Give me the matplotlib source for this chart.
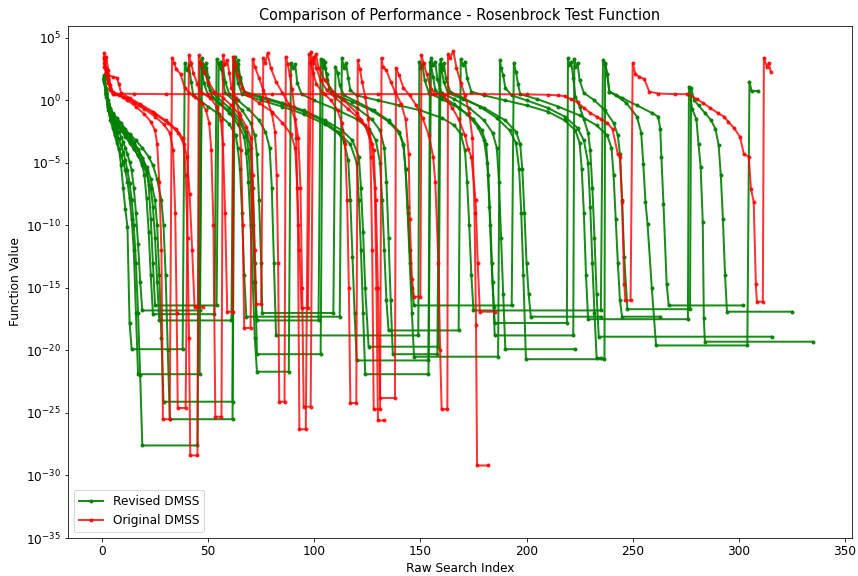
import matplotlib.pyplot as plt

# log10(function value) against raw search index
# Revised DMSS runs
rev_1 = [(1,1.8),(2,0.6),(3,-0.5),(4,-1.2),(5,-1.8),(6,-2.4),(7,-3.0),(8,-3.9),(9,-5.2),(10,-7.0),(11,-8.7),(12,-10.1),(13,-17.8),(14,-19.9),(38,-19.9),
         (39,3.0),(40,2.4),(41,2.8),(42,1.5),(43,0.4),(46,0.0),(50,-0.5),(55,-1.1),(60,-1.9),(63,-2.8),(64,-3.8),(65,-5.5),(66,-9.0),(67,-14.0),(68,-17.3),(112,-17.3),
         (113,3.4),(114,2.6),(115,3.0),(116,1.8),(117,0.8),(120,0.4),(130,0.0),(140,-0.4),(150,-0.8),(160,-1.4),(166,-2.0),(169,-2.7),(171,-4.0),(172,-6.5),(173,-10.0),(174,-14.0),(175,-16.8),(235,-16.8),
         (236,3.2),(237,2.9),(238,2.1),(239,0.7),(242,0.4),(247,-0.2),(252,-1.3),(254,-2.6),(255,-5.1),(256,-8.1),(257,-9.9),(259,-15.0),(261,-19.6),(304,-19.6),
         (305,1.5),(306,0.75),(309,0.75)]
rev_2 = [(1,1.5),(2,0.3),(3,-0.8),(4,-1.6),(5,-2.2),(6,-2.8),(7,-3.4),(8,-3.9),(9,-4.4),(10,-4.9),(11,-5.6),(12,-6.5),(13,-7.8),(14,-9.5),(15,-12.0),(16,-17.0),(17,-21.9),(46,-21.9),
         (47,2.8),(48,2.2),(49,2.6),(50,1.2),(52,0.3),(56,-0.3),(61,-1.0),(65,-1.8),(68,-2.8),(69,-4.0),(70,-6.5),(71,-10.0),(72,-14.5),(73,-17.6),(102,-17.6),
         (103,3.3),(104,2.7),(105,3.1),(106,1.6),(108,0.6),(113,0.1),(120,-0.6),(127,-1.5),(131,-2.4),(133,-3.8),(134,-6.5),(135,-11.0),(136,-16.0),(137,-20.3),(158,-20.3),
         (159,2.9),(160,2.4),(161,1.5),(163,0.6),(170,0.1),(180,-0.6),(190,-1.6),(195,-2.5),(197,-3.5),(198,-5.5),(199,-9.0),(200,-13.0),(201,-15.5),(202,-17.3),(235,-17.3)]
rev_3 = [(1,2.0),(2,1.0),(3,0.0),(4,-0.7),(5,-1.3),(6,-1.9),(7,-2.5),(8,-3.1),(9,-3.6),(10,-4.1),(11,-4.8),(12,-5.6),(13,-6.6),(14,-8.0),(15,-10.0),(16,-13.0),(17,-17.0),(18,-22.0),(19,-27.6),(45,-27.6),
         (46,3.1),(47,2.5),(48,1.4),(50,0.4),(55,-0.2),(60,-1.0),(64,-1.9),(67,-2.9),(68,-4.2),(69,-6.5),(70,-10.0),(71,-14.5),(72,-19.0),(73,-21.7),(88,-21.7),
         (89,3.0),(90,2.6),(91,2.9),(92,1.4),(94,0.5),(100,0.0),(110,-0.7),(120,-1.5),(126,-2.3),(129,-3.2),(131,-5.0),(132,-8.0),(133,-12.0),(134,-16.0),(135,-18.4),(168,-18.4),
         (169,3.3),(170,2.8),(171,3.1),(172,1.8),(174,0.7),(180,0.4),(190,0.0),(200,-0.4),(210,-0.9),(218,-1.6),(223,-2.4),(225,-3.4),(226,-5.5),(227,-9.0),(228,-14.0),(229,-17.5),(276,-17.5),
         (276.5,1.1),(278,-0.7),(280,-1.5),(281,-3.5),(282,-5.3),(283,-9.7),(283.5,-17.4),(284,-19.3),(335,-19.3)]
rev_4 = [(1,1.6),(2,0.5),(3,-0.3),(4,-0.9),(5,-1.3),(6,-1.7),(7,-2.1),(8,-2.5),(9,-2.9),(10,-3.3),(11,-3.8),(12,-4.3),(13,-4.9),(14,-5.6),(15,-7.0),(16,-9.0),(17,-11.5),(18,-14.5),(19,-16.8),(46,-16.8),
         (47,3.4),(48,2.7),(49,3.0),(50,1.9),(51,0.8),(54,0.3),(60,-0.6),(65,-1.5),(68,-2.5),(70,-3.8),(71,-7.0),(72,-13.0),(73,-20.3),(103,-20.3),
         (104,3.2),(105,2.6),(106,2.1),(107,1.0),(110,0.4),(118,-0.1),(127,-0.8),(135,-1.7),(140,-2.6),(142,-3.6),(143,-5.5),(144,-8.5),(145,-12.0),(146,-15.0),(147,-16.4),(193,-16.4),
         (194,3.0),(195,2.3),(196,1.3),(197,0.5),(205,0.1),(215,-0.5),(225,-1.2),(233,-2.0),(238,-2.8),(240,-3.8),(241,-6.0),(242,-9.5),(243,-13.0),(244,-16.0),(245,-17.3),(263,-17.3)]
rev_5 = [(1,1.9),(2,0.7),(3,-0.3),(4,-0.8),(5,-1.2),(7,-1.7),(9,-2.2),(11,-2.7),(13,-3.2),(15,-3.8),(17,-4.4),(19,-5.2),(20,-6.0),(21,-7.8),(22,-10.5),(23,-14.0),(24,-17.1),(53,-17.1),
         (54,3.3),(55,2.9),(56,3.1),(57,1.7),(58,0.6),(62,0.0),(66,-0.8),(70,-1.8),(72,-2.8),(73,-4.3),(74,-8.0),(75,-13.0),(75.5,-17.0),(109,-17.0),
         (110,2.7),(111,2.2),(112,1.2),(114,0.4),(120,-0.1),(128,-0.8),(135,-1.6),(140,-2.5),(142,-3.5),(143,-5.5),(144,-9.0),(145,-13.0),(146,-17.0),(147,-20.5),(186.6,-20.5),
         (187.5,3.2),(188,2.6),(189,2.0),(190,1.0),(193,0.4),(200,0.0),(210,-0.6),(218,-1.3),(224,-2.2),(227,-3.2),(229,-5.0),(230,-8.5),(231,-13.0),(232,-17.0),(233,-20.6),(235,-20.6)]
rev_6 = [(1,1.7),(2,0.6),(3,-0.2),(4,-0.6),(5,-1.0),(7,-1.4),(9,-1.8),(11,-2.3),(13,-2.8),(15,-3.3),(17,-3.9),(19,-4.6),(21,-5.6),(22,-6.8),(23,-9.5),(24,-13.0),(25,-16.4),(54,-16.4),
         (55,3.0),(56,2.5),(57,2.8),(58,1.5),(60,0.5),(64,0.0),(69,-0.7),(74,-1.6),(77,-2.5),(79,-3.8),(80,-7.0),(81,-13.0),(82,-18.8),(149,-18.8),
         (149.5,3.1),(150,2.6),(151,2.9),(152,1.6),(154,0.6),(160,0.1),(168,-0.6),(175,-1.5),(179,-2.4),(181,-3.5),(182,-6.0),(183,-10.0),(184,-14.5),(185,-17.8),(219,-17.8),
         (219.5,3.4),(220,2.8),(221,3.1),(222,1.8),(223,0.3),(225,-0.5),(227,-1.5),(229,-2.6),(230,-4.0),(231,-7.0),(232,-11.0),(233,-15.5),(234,-18.9),(315.5,-18.9)]
rev_7 = [(1,1.6),(2,0.4),(3,-0.5),(4,-1.0),(5,-1.4),(7,-1.9),(9,-2.4),(11,-2.9),(13,-3.4),(15,-3.9),(17,-4.4),(19,-5.0),(21,-5.8),(23,-7.0),(24,-8.5),(25,-11.0),(26,-14.5),(27,-17.6),(61,-17.6),
         (62,3.2),(63,2.6),(64,2.9),(65,1.7),(67,0.6),(75,0.2),(85,-0.3),(95,-0.9),(105,-1.7),(111,-2.5),(114,-3.3),(116,-4.8),(117,-8.0),(118,-12.5),(119,-17.0),(120,-20.8),(153.8,-20.8),
         (154.5,3.1),(155,2.8),(156,1.9),(157,0.8),(160,0.3),(166,-0.3),(172,-1.1),(177,-2.1),(180,-3.2),(181.5,-5.0),(182.5,-8.5),(183.5,-13.0),(184.5,-16.5),(185,-18.8),(222,-18.8),
         (222.5,3.3),(223,2.7),(224,3.0),(225,1.6),(227,0.6),(232,0.0),(237,-0.8),(241,-1.8),(243,-2.8),(244,-4.3),(245,-8.0),(246,-12.5),(247.5,-16.7),(277,-16.7),
         (277.5,1.0),(279,0.0),(281,-0.4),(284,-1.0),(287,-1.6),(289,-2.3),(290.5,-3.6),(291.5,-6.0),(292.5,-9.5),(293.5,-14.0),(294.4,-16.9),(325,-16.9)]
rev_8 = [(1,1.8),(2,0.8),(3,-0.2),(4,-0.8),(5,-1.2),(7,-1.7),(9,-2.2),(11,-2.6),(13,-3.0),(15,-3.5),(17,-4.0),(19,-4.6),(21,-5.3),(23,-6.3),(25,-8.0),(26,-10.0),(27,-14.0),(28,-19.0),(29,-24.1),(61.5,-24.1),
         (62,2.9),(63,2.4),(64,1.4),(66,0.5),(75,0.0),(85,-0.5),(95,-1.1),(105,-1.9),(112,-2.7),(117,-3.5),(120,-5.0),(121,-8.0),(122,-12.0),(123,-17.0),(124,-21.9),(153.8,-21.9),
         (155,3.4),(156,2.8),(157,3.1),(158,1.7),(160,0.6),(166,0.1),(173,-0.6),(180,-1.6),(184,-2.6),(186,-3.8),(187,-6.5),(188,-11.0),(189,-15.5),(190,-19.9),(223,-19.9)]
rev_9 = [(1,1.7),(2,0.5),(3,-0.4),(4,-0.9),(5,-1.3),(7,-1.7),(10,-2.2),(13,-2.7),(16,-3.2),(19,-3.8),(22,-4.5),(24,-5.2),(26,-6.3),(28,-8.0),(29,-10.0),(30,-14.0),(31,-20.0),(32,-25.5),(61.5,-25.5),
         (62.5,3.5),(63,2.8),(64,3.2),(65,1.9),(67,0.7),(75,0.3),(85,-0.2),(95,-0.8),(105,-1.6),(113,-2.4),(118,-3.2),(121,-4.5),(122,-7.0),(123,-10.5),(124,-15.0),(125.6,-19.7),(158.5,-19.7),
         (159.5,3.3),(160,2.7),(161,3.0),(162,1.8),(164,0.7),(170,0.2),(178,-0.5),(186,-1.4),(192,-2.4),(195,-3.4),(196.5,-5.5),(197.5,-9.0),(198.5,-14.0),(199.7,-20.7),(236.7,-20.7),
         (237,3.0),(238,2.1),(239,0.7),(245,0.2),(252,-0.4),(259,-1.0),(262,-1.3),(263,-2.3),(263.5,-4.5),(264.5,-8.3),(266,-14.7),(267,-16.4),(302,-16.4)]

# Original DMSS runs
orig_1 = [(1,3.3),(2,2.2),(3,1.4),(4,0.8),(5,0.55),(15,0.52),(30,0.5),(50,0.5),(80,0.5),(105,0.5),(130,0.5),(155,0.5),(180,0.5),(200,0.48),(210,0.45),(215,0.4),(218,0.34),
          (221,0.08),(224,-0.16),(227,-0.6),(230,-1.0),(233,-1.3),(235,-1.5),(238,-1.8),(240.5,-2.3),(243,-4.3),(244,-4.5),(245,-8.1),(246,-14.7),(246.6,-16.0),(249,-16.0),
          (250,3.0),(251.3,2.1),(253,1.9),(255.5,1.7),(257.8,0.7),(262,0.55),(270,0.5),(275.7,0.5),(280.4,0.1),(283,-0.2),(286.5,-0.6),(290,-1.0),(293,-1.3),(295,-1.7),
          (297.7,-2.2),(300.5,-2.9),(302.4,-4.3),(304.7,-4.5),(305.7,-7.1),(307,-8.1),(308,-14.7),(308.5,-16.1),(311.3,-16.1),
          (311.8,3.4),(313.2,2.7),(314.1,3.0),(315,2.3)]
orig_2 = [(1,3.8),(1.5,3.2),(2,3.5),(3,2.4),(4,1.2),(5,0.7),(8,0.4),(12,0.0),(16,-0.5),(20,-1.1),(23,-1.7),(25,-2.4),(26,-3.5),(27,-6.5),(28,-12.0),(28.7,-25.5),(31.9,-25.5),
          (33,3.4),(34,3.0),(35,2.5),(37,2.1),(39,1.0),(41,0.6),(44,0.3),(47,-0.2),(49,-0.8),(50.5,-1.8),(51.5,-4.0),(52.5,-10.0),(53.4,-25.3),(56.3,-25.3),
          (57,3.6),(58,2.9),(59,3.2),(60,2.2),(61,1.0),(63,0.2),(64.5,-1.0),(65.5,-4.0),(66.3,-10.0),(67,-18.2),(70,-18.2),
          (71,3.3),(72,2.7),(74,1.8),(76,0.8),(78,0.0),(80,-1.0),(81.5,-2.5),(82.3,-6.0),(83,-13.0),(83.5,-24.1),(86,-24.1),
          (86.6,3.5),(87.5,2.9),(88.5,2.0),(89.5,0.9),(90.5,-0.5),(91.5,-3.0),(92.3,-10.0),(93,-26.3),(96,-26.3),
          (97.5,3.7),(98.2,3.0),(99.5,2.2),(101,1.3),(104,0.6),(108,0.0),(111,-0.8),(113,-1.8),(114.5,-3.5),(115.5,-8.0),(116.3,-15.0),(117,-24.2),(119.8,-24.2),
          (120.5,3.2),(121.5,2.5),(122.5,1.5),(124,0.3),(125.5,-1.5),(126.5,-4.5),(127.3,-12.0),(128,-24.7),(131,-24.7),
          (131.7,3.4),(132.3,2.7),(134,2.4),(136,1.5),(138,0.7),(141,-0.3),(143,-1.5),(144.5,-4.3),(145,-9.5),(146,-14.3),(147,-15.7),(150,-15.7),
          (150.5,3.6),(151.5,3.0),(153,2.1),(155,0.9),(157,0.5),(161,0.4),(165,-0.6),(168,-1.5),(171,-2.8),(172.5,-3.9),(174,-4.5),(176,-8.0),(177,-13.0),(178,-16.9),(185,-16.9)]
orig_3 = [(1,3.0),(2,2.3),(3,1.5),(4,1.0),(5,0.6),(10,0.3),(15,-0.2),(20,-0.7),(25,-1.3),(29,-1.9),(32,-2.6),(33.5,-4.0),(34.5,-9.0),(35.2,-17.0),(35.7,-24.6),(39.4,-24.6),
          (41,3.6),(42,3.0),(43,2.2),(45,1.3),(47,0.6),(51,0.2),(54,-0.5),(56,-1.6),(57,-3.5),(58,-9.0),(59,-16.9),(61.5,-16.9),
          (61.8,3.5),(62.5,2.9),(64,2.0),(66,1.0),(69,0.4),(74,-0.2),(80,-0.9),(85,-1.8),(89,-2.7),(91,-3.8),(92,-7.0),(93,-12.0),(94,-16.6),(97,-16.6),
          (98.5,3.9),(99,3.2),(100,3.5),(101,2.6),(103,1.6),(106,0.8),(110,0.2),(116,-0.7),(122,-1.6),(126,-2.6),(128,-4.0),(129,-8.0),(130,-15.0),(131,-23.8),(138,-23.8),
          (138.5,2.6),(140,2.0),(142,1.0),(145,0.4),(148,-0.4),(151,-1.4),(154,-2.8),(156,-4.5),(157,-6.5),(158.5,-13.0),(159.3,-20.0),(160,-24.7),(162.7,-24.7),
          (163,3.7),(164,3.4),(165.5,3.95),(167,2.6),(169,1.4),(171,0.4),(173,-1.0),(174.5,-3.0),(175.5,-9.0),(176.2,-18.0),(176.7,-29.2),(181.8,-29.2)]
orig_4 = [(1,3.5),(2,2.6),(3,1.7),(4,0.9),(6,0.5),(12,0.2),(18,-0.4),(25,-1.1),(31,-1.8),(36,-2.6),(38.5,-3.5),(39.5,-6.0),(40.3,-11.0),(41,-19.0),(41.6,-28.4),(45,-28.4),
          (45.6,3.6),(46.5,3.0),(48,2.3),(50,1.5),(53,0.7),(57,0.2),(61,-0.4),(65,-1.2),(68,-2.1),(70,-3.0),(71,-6.0),(72,-12.0),(72.7,-16.3),(75,-16.3),
          (76,3.4),(77,3.0),(78,3.8),(79.5,2.6),(82,1.5),(85,0.6),(88,-0.3),(91,-1.5),(92.5,-3.0),(93.5,-7.0),(94.3,-15.0),(95,-24.5),(98.3,-24.5),
          (99.5,3.0),(100.8,3.7),(102,2.6),(105,1.6),(109,0.7),(114,0.0),(120,-1.0),(124,-2.0),(127,-3.5),(128.5,-7.0),(129.3,-15.0),(130,-25.6),(133,-25.6)]
orig_5 = [(1,2.7),(2,2.2),(3,2.0),(5,1.9),(7,1.8),(8,1.3),(9,0.6),(13,0.2),(18,-0.3),(24,-0.9),(30,-1.6),(35,-2.3),(38,-3.0),(40,-4.5),(41.3,-7.5),(42.5,-12.0),(43.6,-16.5),(47.4,-16.5)]

revised = [rev_1, rev_2, rev_3, rev_4, rev_5, rev_6, rev_7, rev_8, rev_9]
original = [orig_1, orig_2, orig_3, orig_4, orig_5]

plt.rcParams['font.size'] = 12.1

fig = plt.figure(figsize=(858/72, 576/72), dpi=72)
ax = fig.add_axes([68/858, 38/576, 784/858, 512/576])

for i, run in enumerate(revised):
    x = [p[0] for p in run]
    y = [10 ** p[1] for p in run]
    ax.plot(x, y, color='green', marker='o', markersize=3, linewidth=2.0, alpha=0.9,
            label='Revised DMSS' if i == 0 else None)

for i, run in enumerate(original):
    x = [p[0] for p in run]
    y = [10 ** p[1] for p in run]
    ax.plot(x, y, color='red', marker='o', markersize=3, linewidth=2.0, alpha=0.8,
            label='Original DMSS' if i == 0 else None)

ax.set_yscale('log')
ax.set_xlim(-16, 353.3)
ax.set_ylim(1e-35, 10 ** 5.95)
ax.set_yticks([10.0 ** k for k in range(-35, 6, 5)])
ax.yaxis.set_minor_locator(plt.NullLocator())
ax.set_title('Comparison of Performance - Rosenbrock Test Function', fontsize=14.5)
ax.set_xlabel('Raw Search Index')
ax.set_ylabel('Function Value')
ax.legend(loc='lower left')

fig.savefig('out.png', dpi=72)
